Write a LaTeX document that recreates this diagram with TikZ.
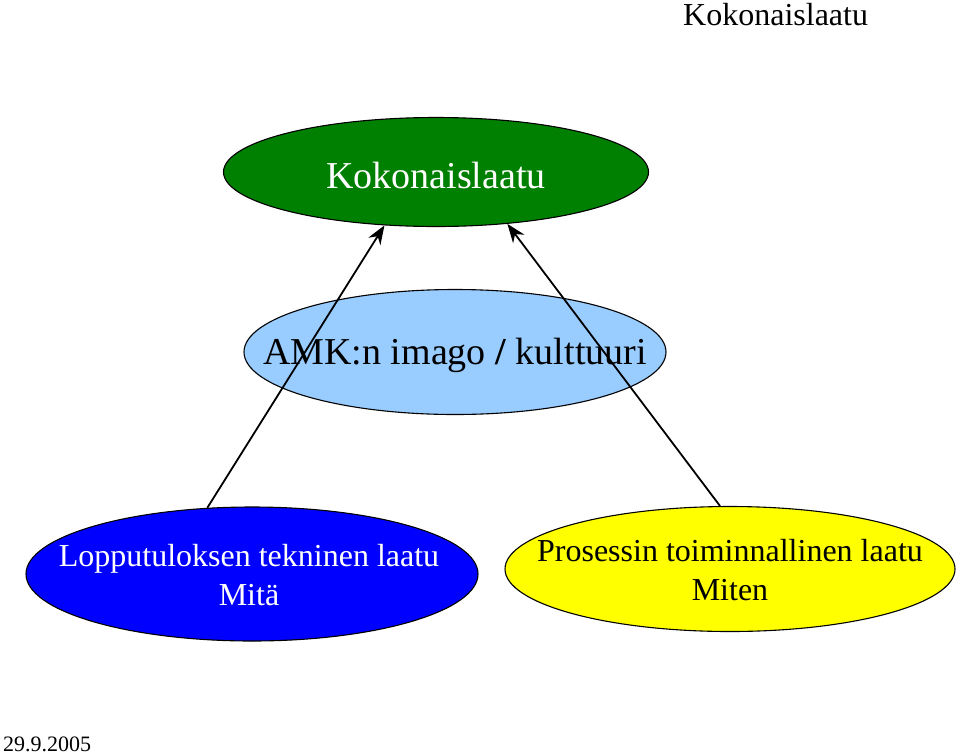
\documentclass[tikz,border=0pt]{standalone}
\usepackage{fontspec}
\setmainfont{Liberation Serif}
\usepackage{tikz}
\usetikzlibrary{positioning, arrows.meta, shapes.geometric}

\definecolor{ovalgreen}{HTML}{008000}
\definecolor{ovallightblue}{HTML}{99CCFF}
\definecolor{ovalblue}{HTML}{0000FF}
\definecolor{ovalyellow}{HTML}{FFFF00}

\begin{document}
\begin{tikzpicture}[
    x=1pt, y=-1pt,
    % Filled ovals with a thin black rim
    oval/.style={
        ellipse,
        draw=black,
        line width=1.1pt,
        inner sep=0pt
    },
    % Text placed on top of an oval
    ovaltext/.style={
        align=center,
        inner sep=0pt,
        font=\fontsize{38}{44}\selectfont
    },
    smalltext/.style={
        align=center,
        inner sep=0pt,
        font=\fontsize{32}{38.5}\selectfont
    },
    % Plain arrows with solid tips
    arrow/.style={
        -{Stealth[scale=1.7]},
        draw=black,
        line width=1.8pt
    }
]
\useasboundingbox (0,0) rectangle (960,755);

% --- Page title and date ---
\node[smalltext, anchor=west] (title) at (683,15) {Kokonaislaatu};
\node[font=\fontsize{22}{26}\selectfont, inner sep=0pt, anchor=west] (date) at (3,744) {29.9.2005};

% --- Top oval ---
\node[oval, fill=ovalgreen, minimum width=425pt, minimum height=109pt] (kokonais) at (436,172) {};
\node[ovaltext, text=white] (kokonaisteksti) at (436,175) {Kokonaislaatu};

% --- Middle oval ---
\node[oval, fill=ovallightblue, minimum width=422pt, minimum height=125pt] (imago) at (455,352) {};
\node[ovaltext] (imagoteksti) at (455,355) {AMK:n imago \textbf{/} kulttuuri};

% --- Bottom ovals ---
\node[oval, fill=ovalblue, minimum width=452pt, minimum height=134pt] (mita) at (252,574) {};
\node[smalltext, text=white] (mitateksti) at (249,575) {Lopputuloksen tekninen laatu\\Mitä};

\node[oval, fill=ovalyellow, minimum width=450pt, minimum height=125pt] (miten) at (730,569) {};
\node[smalltext] (mitenteksti) at (730,570) {Prosessin toiminnallinen laatu\\Miten};

% --- Arrows up to the top oval ---
\draw[arrow] (mita.124) -- (kokonais.226);
\draw[arrow] (miten.99) -- (kokonais.324);

\end{tikzpicture}
\end{document}
